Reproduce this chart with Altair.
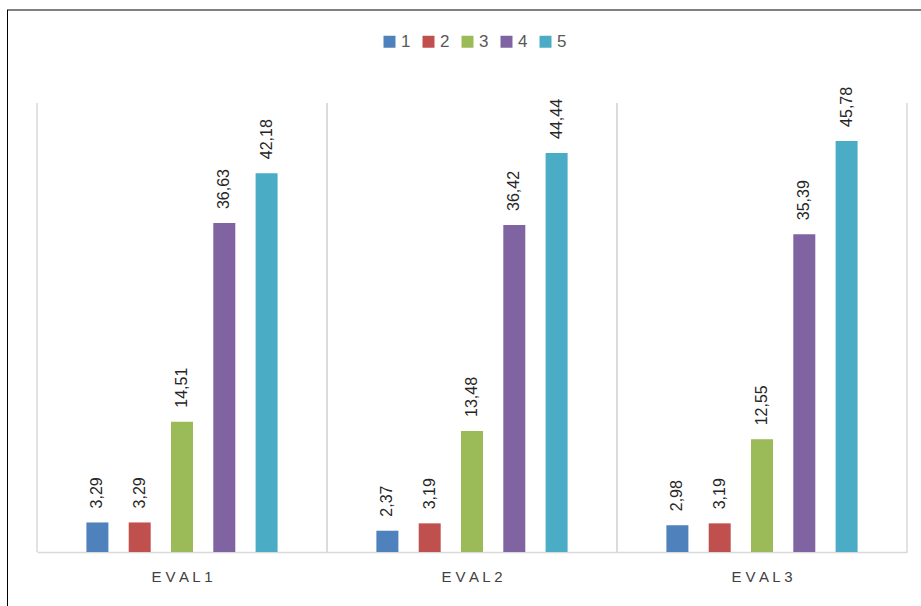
import altair as alt
import pandas as pd

groups = ["EVAL1", "EVAL2", "EVAL3"]
series = ["1", "2", "3", "4", "5"]
values = {
    "EVAL1": [3.29, 3.29, 14.51, 36.63, 42.18],
    "EVAL2": [2.37, 3.19, 13.48, 36.42, 44.44],
    "EVAL3": [2.98, 3.19, 12.55, 35.39, 45.78],
}
colors = ["#4F81BD", "#C0504D", "#9BBB59", "#8064A2", "#4BACC6"]

rows = []
for g in groups:
    for s, v in zip(series, values[g]):
        rows.append({"group": g, "series": s, "value": v,
                     "label": f"{v:.2f}".replace(".", ",")})
df = pd.DataFrame(rows)
gdf = pd.DataFrame({"group": groups})

W, H = 870, 449
FONT = "Liberation Sans"

xscale = alt.Scale(domain=groups, paddingInner=0, paddingOuter=0)
xoff = alt.XOffset("series:N", sort=series,
                   scale=alt.Scale(range=[49.4, 240.6], paddingInner=0.48,
                                   paddingOuter=0))
yscale = alt.Scale(domain=[0, 50])

bars = alt.Chart(df).mark_bar().encode(
    x=alt.X("group:N", scale=xscale, sort=groups, title=None,
            axis=alt.Axis(ticks=False, grid=False, domainColor="#d9d9d9",
                          domainWidth=1.5, labelAngle=0, labelFont=FONT,
                          labelFontSize=15, labelColor="#404040",
                          labelPadding=24, labelAlign="center",
                          bandPosition=0.5,
                          labelExpr="join(split(datum.label, ''), ' ')")),
    xOffset=xoff,
    y=alt.Y("value:Q", scale=yscale, axis=None),
    color=alt.Color("series:N", sort=series,
                    scale=alt.Scale(domain=series, range=colors),
                    legend=alt.Legend(title=None, orient="none",
                                      direction="horizontal",
                                      legendX=344, legendY=-70,
                                      symbolType="square", symbolSize=144,
                                      symbolStrokeWidth=0,
                                      labelFont=FONT, labelFontSize=17,
                                      labelColor="#595959", labelOffset=3,
                                      columnPadding=9)),
)

texts = alt.Chart(df).mark_text(
    angle=270, align="left", baseline="middle", dx=14,
    font=FONT, fontSize=16, color="#262626",
).encode(
    x=alt.X("group:N", scale=xscale, sort=groups),
    xOffset=xoff,
    y=alt.Y("value:Q", scale=yscale),
    text="label:N",
)

sep0 = alt.Chart(gdf).mark_rule(color="#d9d9d9", strokeWidth=1.5).encode(
    x=alt.X("group:N", scale=xscale, sort=groups, bandPosition=0),
    y=alt.value(0), y2=alt.value(H),
)
sep1 = alt.Chart(gdf).mark_rule(color="#d9d9d9", strokeWidth=1.5).encode(
    x=alt.X("group:N", scale=xscale, sort=groups, bandPosition=1),
    y=alt.value(0), y2=alt.value(H),
)

top_border = alt.Chart(gdf).mark_rule(color="#808080", strokeWidth=2).encode(
    x=alt.value(-30), x2=alt.value(884), y=alt.value(-93))
left_border = alt.Chart(gdf).mark_rule(color="#000000", strokeWidth=1).encode(
    x=alt.value(-29.5), y=alt.value(-93), y2=alt.value(510))

chart = alt.layer(sep0, sep1, bars, texts, top_border, left_border).properties(
    width=W, height=H,
    autosize=alt.AutoSizeParams(type="none"),
    padding={"left": 37, "top": 103, "right": 14, "bottom": 54},
).configure_view(stroke=None)

chart.save("out.html", embed_options={"renderer": "svg", "actions": False})
